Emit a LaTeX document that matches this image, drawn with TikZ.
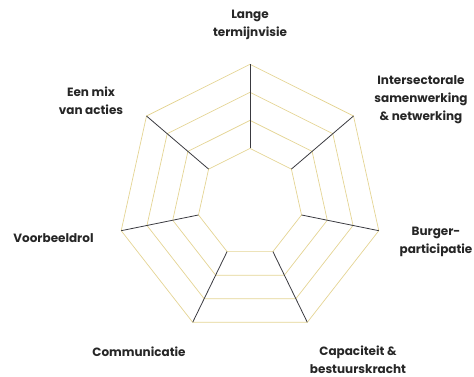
\documentclass[tikz,border=0pt]{standalone}
\usepackage{fontspec}
\setmainfont{Poppins}
\usetikzlibrary{calc}
\definecolor{ringgold}{HTML}{E4D493}
\definecolor{spokegrey}{HTML}{3A3A40}
\definecolor{labelgrey}{HTML}{262626}
\begin{document}
\begin{tikzpicture}[x=1pt,y=-1pt,
  ring/.style={draw=ringgold, line width=0.7pt, line join=miter},
  spoke/.style={draw=spokegrey, line width=0.8pt},
  lbl/.style={font=\bfseries\fontsize{12}{18}\selectfont, align=center, text=labelgrey, inner sep=0pt}]
\useasboundingbox (0,0) rectangle (474,377);
\coordinate (c) at (250,204.5);
\coordinate (o1) at (250,64.3);
\coordinate (o2) at (353.5,116);
\coordinate (o3) at (378.8,230.7);
\coordinate (o4) at (307.3,322.3);
\coordinate (o5) at (192.7,322.3);
\coordinate (o6) at (121.2,230.7);
\coordinate (o7) at (146.5,116);
\foreach \s in {0.4,0.6,0.8,1.0}{
  \draw[ring] ($(c)!\s!(o1)$) -- ($(c)!\s!(o2)$) -- ($(c)!\s!(o3)$) -- ($(c)!\s!(o4)$)
    -- ($(c)!\s!(o5)$) -- ($(c)!\s!(o6)$) -- ($(c)!\s!(o7)$) -- cycle;
}
\foreach \k in {1,...,7}{
  \coordinate (i\k) at ($(c)!0.4!(o\k)$);
  \draw[spoke] (i\k) -- (o\k);
}
\node[lbl] (l1) at (250,25) {Lange\\termijnvisie};
\node[lbl] (l2) at (421,100) {Intersectorale\\samenwerking\\\& netwerking};
\node[lbl] (l3) at (436,242) {Burger-\\participatie};
\node[lbl] (l4) at (358,359.5) {Capaciteit \&\\bestuurskracht};
\node[lbl] (l5) at (139,352) {Communicatie};
\node[lbl] (l6) at (53.5,238.3) {Voorbeeldrol};
\node[lbl] (l7) at (91,100.5) {Een mix\\van acties};
\end{tikzpicture}
\end{document}
